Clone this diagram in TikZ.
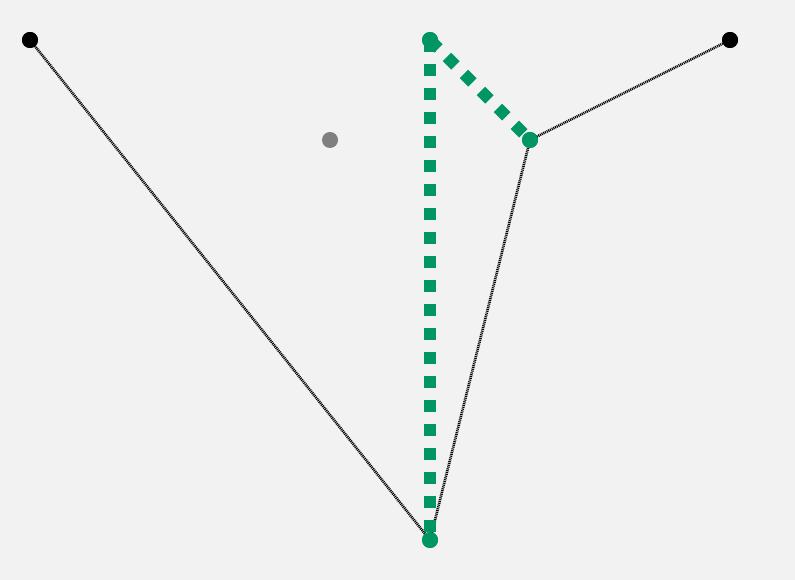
\documentclass[tikz,border=0pt]{standalone}
\usepackage{tikz}
\usetikzlibrary{positioning, calc}
\definecolor{pathgreen}{RGB}{0,150,100}
\definecolor{bggray}{RGB}{242,242,242}

\begin{document}
\begin{tikzpicture}[x=0.75pt, y=-0.75pt]
	% Define styles
	\tikzset{
		pt/.style={circle, fill=black, minimum size=12pt, inner sep=0pt},
		ptgreen/.style={pt, fill=pathgreen},
		ptgray/.style={pt, fill=gray},
		wire/.style={draw=black, line width=2pt, dash pattern=on 0.8pt off 0.6pt, preaction={draw=white, line width=2pt}},
		route/.style={draw=pathgreen, line width=9pt, dash pattern=on 9pt off 9pt}
	}

	% Background
	\fill[bggray] (0,0) rectangle (795,580);
	\useasboundingbox (0,0) rectangle (795,580);

	% Nodes
	\node[pt] (a) at (30,40) {};
	\node[ptgreen] (s) at (430,40) {};
	\node[pt] (b) at (730,40) {};
	\node[ptgray] (g) at (330,140) {};
	\node[ptgreen] (m) at (530,140) {};
	\node[ptgreen] (t) at (430,540) {};

	% Edges
	\draw[wire] (a.center) -- (t.center);
	\draw[wire] (t.center) -- (m.center);
	\draw[wire] (m.center) -- (b.center);

	% Route
	\draw[route] (s.center) -- (t.center);
	\draw[route] (s.center) -- (m.center);

	% Points on top
	\node[pt] at (a) {};
	\node[ptgreen] at (s) {};
	\node[pt] at (b) {};
	\node[ptgreen] at (m) {};
	\node[ptgreen] at (t) {};
\end{tikzpicture}
\end{document}
